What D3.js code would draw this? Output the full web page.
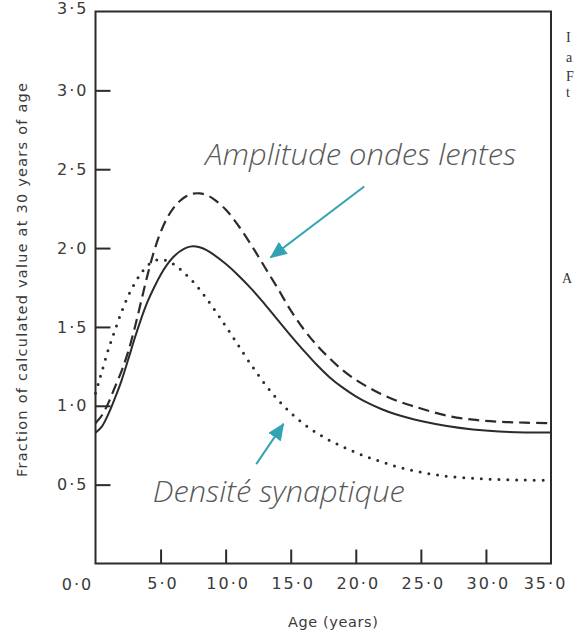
<!DOCTYPE html>
<html>
<head>
<meta charset="utf-8">
<script src="https://cdn.jsdelivr.net/npm/d3@7"></script>
<style>
  html, body { margin: 0; padding: 0; background: #fff; overflow: hidden; }
  svg { display: block; }
</style>
</head>
<body>
<svg id="chart" width="574" height="634"></svg>
<script>
// Fraction of the value at 30 years, by age (years)
const solidAges = [0,0.5,1,1.5,2,2.5,3,3.5,4,4.5,5,5.5,6,6.5,7,7.5,8,8.5,9,10,11,12,13,14,15,16,17,18,19,20,21,22,23,24,25,27,29,31,33,35];
const solidValues = [0.83,0.87,0.95,1.05,1.16,1.29,1.425,1.55,1.66,1.75,1.83,1.895,1.945,1.98,2.003,2.012,2.005,1.988,1.963,1.90,1.825,1.74,1.645,1.545,1.445,1.35,1.26,1.18,1.115,1.06,1.015,0.978,0.948,0.924,0.904,0.872,0.85,0.837,0.831,0.83];

// Slow-wave amplitude (dashed)
const dashedAges = solidAges;
const dashedValues = [0.89,0.94,1.02,1.12,1.22,1.34,1.49,1.66,1.83,1.98,2.10,2.19,2.255,2.30,2.33,2.345,2.347,2.337,2.315,2.245,2.14,2.015,1.88,1.745,1.605,1.485,1.385,1.30,1.225,1.165,1.115,1.072,1.037,1.008,0.983,0.937,0.912,0.899,0.893,0.89];

// Synaptic density (dotted)
const dottedAges = [0,0.25,0.5,1,1.5,2,2.5,3,3.5,4,4.5,5,5.5,6,6.5,7,7.5,8,8.5,9,9.5,10,10.5,11,12,13,14,15,16,17,18,19,20,21,22,23,24,25,26,27,29,31,33,34.7];
const dottedValues = [1.08,1.15,1.22,1.36,1.48,1.595,1.695,1.775,1.84,1.89,1.918,1.928,1.92,1.898,1.866,1.828,1.786,1.738,1.684,1.626,1.566,1.505,1.443,1.38,1.255,1.14,1.04,0.955,0.885,0.828,0.78,0.74,0.704,0.672,0.644,0.618,0.597,0.579,0.564,0.553,0.54,0.533,0.529,0.527];

const xTicks = [5, 10, 15, 20, 25, 30, 35];
const yTicks = [0.5, 1.0, 1.5, 2.0, 2.5, 3.0, 3.5];
const originLabel = "0·0";
const xTitle = "Age (years)";
const yTitle = "Fraction of calculated value at 30 years of age";

// Annotations, placed in data units: [age, value]
const amplitudeLabel = { text: "Amplitude ondes lentes", at: [8.44, 2.525], len: 311 };
const densityLabel = { text: "Densité synaptique", at: [4.4, 0.39], len: 252 };
const amplitudeArrow = { from: [20.65, 2.39], to: [13.45, 1.94] };
const densityArrow = { from: [12.35, 0.63], to: [14.45, 0.885] };

const ink = "#2b2b2b";
const labelInk = "#3a3a3a";
const teal = "#33a3b3";
const fmt = v => d3.format(".1f")(v).replace(".", "·");

const svg = d3.select("#chart");
const x = d3.scaleLinear().domain([0, 35]).range([95.5, 551]);
const y = d3.scaleLinear().domain([0, 3.5]).range([563.5, 11.5]);

const tickFont = "'DejaVu Sans', sans-serif";
const styleTicks = sel => sel
  .attr("fill", labelInk).style("font-family", tickFont)
  .style("font-size", "16px").style("letter-spacing", "2px");

// Frame
svg.append("rect")
  .attr("x", x(0)).attr("y", y(3.5))
  .attr("width", x(35) - x(0)).attr("height", y(0) - y(3.5))
  .attr("fill", "none").attr("stroke", ink).attr("stroke-width", 2);

// Left axis: ticks point inward
const yAxis = svg.append("g")
  .attr("transform", `translate(${x(0)},0)`)
  .call(d3.axisLeft(y).tickValues(yTicks).tickFormat(fmt)
    .tickSizeInner(-15).tickSizeOuter(0).tickPadding(7));
yAxis.select(".domain").remove();
yAxis.selectAll(".tick line").attr("stroke", ink).attr("stroke-width", 2);
yAxis.selectAll(".tick").filter(d => d === 3.5).select("line").remove();
yAxis.selectAll(".tick text").call(styleTicks)
  .attr("dy", d => d === 3.5 ? "0.1em" : "0.32em");

// Bottom axis: ticks point inward
const xAxis = svg.append("g")
  .attr("transform", `translate(0,${y(0)})`)
  .call(d3.axisBottom(x).tickValues(xTicks).tickFormat(fmt)
    .tickSizeInner(-14).tickSizeOuter(0).tickPadding(14));
xAxis.select(".domain").remove();
xAxis.selectAll(".tick line").attr("stroke", ink).attr("stroke-width", 2);
xAxis.selectAll(".tick").filter(d => d === 35).select("line").remove();
xAxis.selectAll(".tick text").call(styleTicks)
  .attr("dx", d => d === 35 ? -6 : 2);

// Shared origin label
svg.append("text")
  .attr("x", x(0) - 18).attr("y", y(0) + 26)
  .attr("text-anchor", "middle")
  .call(styleTicks)
  .text(originLabel);

// Axis titles
svg.append("text")
  .attr("x", (x(0) + x(35)) / 2 + 10).attr("y", 627)
  .attr("text-anchor", "middle")
  .attr("fill", labelInk).style("font-family", tickFont).style("font-size", "14.5px")
  .style("letter-spacing", "0.6px")
  .text(xTitle);

svg.append("text")
  .attr("transform", "translate(27,280) rotate(-90)")
  .attr("text-anchor", "middle")
  .attr("fill", labelInk).style("font-family", tickFont).style("font-size", "14.5px")
  .attr("textLength", 394).attr("lengthAdjust", "spacing")
  .text(yTitle);

// Curves
const line = d3.line().x(d => x(d[0])).y(d => y(d[1])).curve(d3.curveCatmullRom.alpha(0.5));
const series = [
  { ages: solidAges, values: solidValues, dash: null, width: 2, cap: "butt" },
  { ages: dashedAges, values: dashedValues, dash: "11 6", width: 2.2, cap: "butt" },
  { ages: dottedAges, values: dottedValues, dash: "0 8.8", width: 3, cap: "round" }
];
series.forEach(s => {
  svg.append("path")
    .datum(d3.zip(s.ages, s.values))
    .attr("d", line)
    .attr("fill", "none")
    .attr("stroke", ink)
    .attr("stroke-width", s.width)
    .attr("stroke-linecap", s.cap)
    .attr("stroke-dasharray", s.dash);
});

// Arrowhead
svg.append("defs").append("marker")
  .attr("id", "head")
  .attr("markerUnits", "userSpaceOnUse")
  .attr("viewBox", "0 0 17 15")
  .attr("refX", 16).attr("refY", 7.5)
  .attr("markerWidth", 17).attr("markerHeight", 15)
  .attr("orient", "auto")
  .append("path").attr("d", "M0,0 L17,7.5 L0,15 Z").attr("fill", teal);

[amplitudeArrow, densityArrow].forEach(a => {
  svg.append("line")
    .attr("x1", x(a.from[0])).attr("y1", y(a.from[1]))
    .attr("x2", x(a.to[0])).attr("y2", y(a.to[1]))
    .attr("stroke", teal).attr("stroke-width", 2)
    .attr("marker-end", "url(#head)");
});

// Annotation labels
[amplitudeLabel, densityLabel].forEach(lab => {
  svg.append("text")
    .attr("x", x(lab.at[0])).attr("y", y(lab.at[1]))
    .attr("fill", "#595959")
    .style("font-family", "'Open Sans', sans-serif")
    .style("font-style", "italic").style("font-weight", 300)
    .style("font-size", "28.5px")
    .attr("textLength", lab.len).attr("lengthAdjust", "spacingAndGlyphs")
    .text(lab.text);
});

// Edge of the neighbouring column of text
const marginLetters = [["I", 42, 566], ["a", 62, 566], ["F", 81, 566], ["t", 97, 566], ["A", 283, 562]];
svg.selectAll("text.margin").data(marginLetters).join("text")
  .attr("class", "margin")
  .attr("x", d => d[2]).attr("y", d => d[1])
  .attr("fill", "#333")
  .style("font-family", "'Liberation Serif', serif").style("font-size", "14px")
  .text(d => d[0]);
</script>
</body>
</html>
